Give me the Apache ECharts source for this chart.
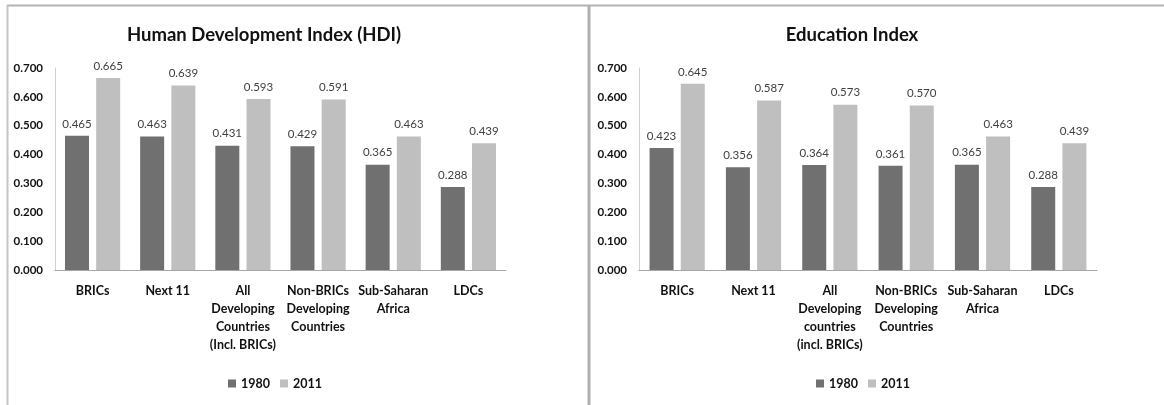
<!DOCTYPE html>
<html>
<head>
<meta charset="utf-8">
<script src="https://cdn.jsdelivr.net/npm/echarts@6/dist/echarts.min.js"></script>
<style>
  html, body { margin: 0; padding: 0; background: #fff; }
  #chart { width: 1164px; height: 405px; }
</style>
</head>
<body>
<div id="chart"></div>
<script>
// Group labels for each panel
const hdiCategories = ['BRICs', 'Next 11', 'All\nDeveloping\nCountries\n(Incl. BRICs)', 'Non-BRICs\nDeveloping\nCountries', 'Sub-Saharan\nAfrica', 'LDCs'];
const eduCategories = ['BRICs', 'Next 11', 'All\nDeveloping\ncountries\n(incl. BRICs)', 'Non-BRICs\nDeveloping\nCountries', 'Sub-Saharan\nAfrica', 'LDCs'];

// Index values
const hdi1980 = [0.465, 0.463, 0.431, 0.429, 0.365, 0.288];
const hdi2011 = [0.665, 0.639, 0.593, 0.591, 0.463, 0.439];
const edu1980 = [0.423, 0.356, 0.364, 0.361, 0.365, 0.288];
const edu2011 = [0.645, 0.587, 0.573, 0.570, 0.463, 0.439];

const years = ['1980', '2011'];
const titles = ['Human Development Index (HDI)', 'Education Index'];

const FONT = 'Lato, "Open Sans", sans-serif';
const DARK = '#707070';
const LIGHT = '#bfbfbf';

function xAxisFor(cats, gridIndex) {
  return {
    type: 'category', gridIndex, data: cats,
    axisLine: { lineStyle: { color: '#a6a6a6', width: 1 } },
    axisTick: { show: false },
    axisLabel: { interval: 0, margin: 12, fontFamily: FONT, fontWeight: 'bold', fontSize: 12.5, color: '#111', lineHeight: 18 }
  };
}
function yAxisFor(gridIndex) {
  return {
    type: 'value', gridIndex, min: 0, max: 0.7, interval: 0.1,
    axisLine: { show: true, lineStyle: { color: '#d0d0d0', width: 1 } },
    axisTick: { show: false },
    splitLine: { show: false },
    axisLabel: { margin: 12, fontFamily: FONT, fontWeight: 'bold', fontSize: 11.5, color: '#111', formatter: v => v.toFixed(3) }
  };
}
function barSeries(name, data, idx, color) {
  return {
    type: 'bar', name, data, xAxisIndex: idx, yAxisIndex: idx,
    barWidth: 24, barGap: '30%',
    itemStyle: { color },
    label: { show: true, position: 'top', distance: 6, fontFamily: FONT, fontSize: 11.5, color: '#404040', formatter: p => p.value.toFixed(3) }
  };
}
function legendAt(left) {
  return {
    data: years, left, top: 372, itemWidth: 8, itemHeight: 8, itemGap: 10,
    icon: 'rect', selectedMode: false,
    textStyle: { fontFamily: FONT, fontWeight: 'bold', fontSize: 12.5, color: '#111' }
  };
}

const chart = echarts.init(document.getElementById('chart'), null, { renderer: 'canvas' });
chart.setOption({
  animation: false,
  backgroundColor: '#fff',
  grid: [
    { left: 55, top: 68, width: 451, height: 202 },
    { left: 639, top: 68, width: 458, height: 202 }
  ],
  xAxis: [xAxisFor(hdiCategories, 0), xAxisFor(eduCategories, 1)],
  yAxis: [yAxisFor(0), yAxisFor(1)],
  legend: [legendAt(223), legendAt(811)],
  series: [
    barSeries(years[0], hdi1980, 0, DARK),
    barSeries(years[1], hdi2011, 0, LIGHT),
    barSeries(years[0], edu1980, 1, DARK),
    barSeries(years[1], edu2011, 1, LIGHT)
  ],
  graphic: [
    // panel frames
    { type: 'line', shape: { x1: 7, y1: 5.5, x2: 1164, y2: 5.5 }, style: { stroke: '#b4b4b4', lineWidth: 2 } },
    { type: 'line', shape: { x1: 7.5, y1: 5, x2: 7.5, y2: 405 }, style: { stroke: '#c4c4c4', lineWidth: 2 } },
    { type: 'line', shape: { x1: 589, y1: 5, x2: 589, y2: 405 }, style: { stroke: '#b0b0b0', lineWidth: 3 } },
    // panel titles
    { type: 'text', x: 264, y: 35, style: { text: titles[0], fontFamily: FONT, fontWeight: 'bold', fontSize: 18.5, fill: '#111', align: 'center', verticalAlign: 'middle' } },
    { type: 'text', x: 852, y: 35, style: { text: titles[1], fontFamily: FONT, fontWeight: 'bold', fontSize: 18.5, fill: '#111', align: 'center', verticalAlign: 'middle' } }
  ]
});
</script>
</body>
</html>
